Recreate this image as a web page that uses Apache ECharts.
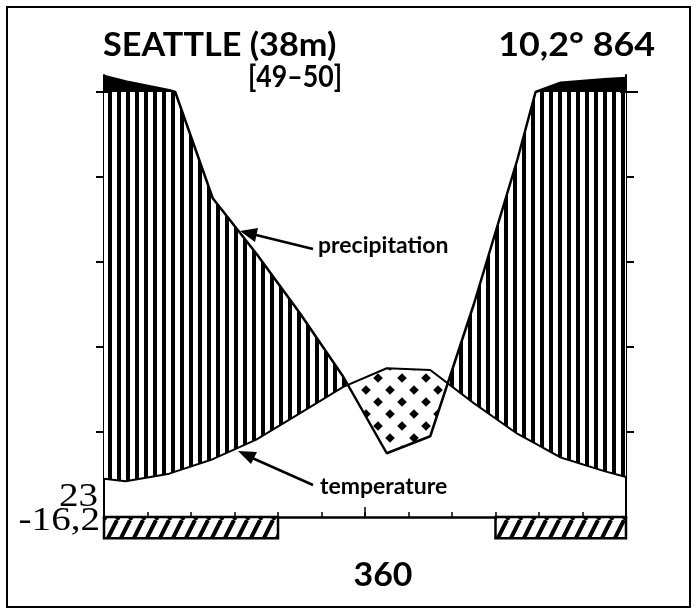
<!DOCTYPE html>
<html><head><meta charset="utf-8">
<script src="https://cdn.jsdelivr.net/npm/echarts@6/dist/echarts.min.js"></script>
<style>html,body{margin:0;padding:0;background:#fff}#c{width:696px;height:614px}</style>
</head><body><div id="c"></div>
<script>
// ---- data ----
const months = ['Jan','Feb','Mar','Apr','May','Jun','Jul','Aug','Sep','Oct','Nov','Dec'];
const temperature = [4.2, 5.1, 6.8, 9.1, 12.2, 15.3, 17.5, 17.3, 13.4, 9.8, 7.0, 5.4];   // °C
const precipitation = [125, 104, 75, 62, 48, 33, 15, 19, 50, 84, 122, 130];             // mm
const edgeTemperature = [4.5, 4.7];      // values at left / right frame edge
const edgePrecipitation = [138, 133];
const frostHatched = [1,1,1,1,0,0,0,0,0,1,1,1];  // months with absolute min below 0
const yTicks = [20, 40, 60, 80, 100];
const titleText = 'SEATTLE (38m)';
const yearsText = '[49–50]';
const meanText = '10,2° 864';
const maxWarmText = '23';
const absMinText = '-16,2';
const bottomText = '360';

// ---- Walter–Lieth scale: 10 °C = 20 mm, above 100 mm reduced 1:10 ----
const tDisp = t => 2 * t;
const pDisp = p => p <= 100 ? p : 100 + (p - 100) / 10;

const xm = [0].concat(months.map((m, i) => i + 0.5), [12]);
const Tm = [edgeTemperature[0]].concat(temperature, [edgeTemperature[1]]);
const Pm = [edgePrecipitation[0]].concat(precipitation, [edgePrecipitation[1]]);

// insert the 100 mm crossings (interpolated in real mm), then change scale
const xs = [xm[0]], Pr = [Pm[0]], Tr = [Tm[0]];
for (let i = 1; i < xm.length; i++) {
  if ((Pm[i-1] - 100) * (Pm[i] - 100) < 0) {
    const f = (100 - Pm[i-1]) / (Pm[i] - Pm[i-1]);
    xs.push(xm[i-1] + f * (xm[i] - xm[i-1])); Pr.push(100); Tr.push(Tm[i-1] + f * (Tm[i] - Tm[i-1]));
  }
  xs.push(xm[i]); Pr.push(Pm[i]); Tr.push(Tm[i]);
}
const T = Tr.map(tDisp);
const P = Pr.map(pDisp);
const H = xs.map(() => 100);

function bands(xs, top, bot) {
  const polys = []; let cur = null;
  for (let i = 0; i < xs.length; i++) {
    const d = top[i] - bot[i];
    if (i > 0) {
      const dp = top[i-1] - bot[i-1];
      if ((dp > 0) !== (d > 0)) {
        const f = dp / (dp - d);
        const xc = xs[i-1] + f * (xs[i] - xs[i-1]);
        const yc = bot[i-1] + f * (bot[i] - bot[i-1]);
        if (cur) { cur.top.push([xc, yc]); polys.push(cur); cur = null; }
        else { cur = { top: [[xc, yc]], bot: [] }; }
      }
    }
    if (d > 0) {
      if (!cur) cur = { top: [], bot: [] };
      cur.top.push([xs[i], top[i]]); cur.bot.push([xs[i], bot[i]]);
    }
  }
  if (cur) polys.push(cur);
  return polys.map(c => c.top.concat(c.bot.slice().reverse()));
}
const humid = bands(xs, P, T);
const dry = bands(xs, T, P);
const wet = bands(xs, P, H);

// frost runs
const frostRuns = [];
frostHatched.forEach((v, i) => {
  if (!v) return;
  const last = frostRuns[frostRuns.length - 1];
  if (last && last[1] === i) last[1] = i + 1; else frostRuns.push([i, i + 1]);
});

// ---- patterns ----
function mk(w, h, draw) { const c = document.createElement('canvas'); c.width = w; c.height = h; draw(c.getContext('2d')); return c; }
const stripes = mk(9, 4, g => { g.fillStyle = '#fff'; g.fillRect(0,0,9,4); g.fillStyle = '#000'; g.fillRect(0,0,4,4); });
const dots = mk(24, 24, g => {
  g.fillStyle = '#fff'; g.fillRect(0,0,24,24); g.fillStyle = '#000';
  [[6,6],[18,18]].forEach(([cx, cy]) => { g.beginPath(); g.moveTo(cx, cy-4.8); g.lineTo(cx+4.8, cy); g.lineTo(cx, cy+4.8); g.lineTo(cx-4.8, cy); g.closePath(); g.fill(); });
});
const hatch = mk(13, 26, g => {
  g.fillStyle = '#fff'; g.fillRect(0,0,13,26); g.strokeStyle = '#000'; g.lineWidth = 4;
  [-13, 0, 13].forEach(o => { g.beginPath(); g.moveTo(o, 26); g.lineTo(o + 13, 0); g.stroke(); });
});

const chart = echarts.init(document.getElementById('c'), null, { renderer: 'canvas' });

function polyEl(api, pts, fill) {
  return { type: 'polygon', shape: { points: pts.map(p => api.coord(p)) }, style: { fill: fill, lineWidth: 0 } };
}

const yAxisCommon = {
  type: 'value', min: -5, max: 104,
  splitLine: { show: false },
  axisLine: { show: true, onZero: false, lineStyle: { color: '#000', width: 2 } },
  axisTick: { show: true, customValues: yTicks, length: 8, lineStyle: { color: '#000', width: 2 } },
  axisLabel: { show: false }
};

const bigFont = 'bold 32px Lato';
const numFont = '34px "Liberation Serif"';

chart.setOption({
  animation: false,
  backgroundColor: '#fff',
  grid: { left: 104, right: 70, top: 75, bottom: 75.75 },
  xAxis: {
    type: 'value', min: 0, max: 12, interval: 1,
    axisLine: { onZero: true, lineStyle: { color: '#000', width: 2.5 } },
    axisTick: { inside: true, length: 5, lineStyle: { color: '#000', width: 1.5 } },
    axisLabel: { show: false }, splitLine: { show: false }
  },
  yAxis: [
    Object.assign({}, yAxisCommon, { position: 'left' }),
    Object.assign({}, yAxisCommon, { position: 'right' })
  ],
  series: [
    {
      type: 'custom', data: [[0]], z: 2, silent: true,
      renderItem: (params, api) => {
        const children = [];
        humid.forEach(pts => children.push(polyEl(api, pts, { image: stripes, repeat: 'repeat' })));
        wet.forEach(pts => children.push(polyEl(api, pts, '#000')));
        dry.forEach(pts => children.push(polyEl(api, pts, { image: dots, repeat: 'repeat' })));
        frostRuns.forEach(r => {
          const a = api.coord([r[0], 0]), b = api.coord([r[1], -5]);
          children.push({ type: 'rect', shape: { x: a[0], y: a[1], width: b[0] - a[0], height: b[1] - a[1] },
            style: { fill: { image: hatch, repeat: 'repeat' }, stroke: '#000', lineWidth: 2.5 } });
        });
        const c0 = api.coord([6, 0]);
        children.push({ type: 'line', shape: { x1: c0[0], y1: c0[1], x2: c0[0], y2: c0[1] - 10 }, style: { stroke: '#000', lineWidth: 1.5 } });
        const l = api.coord([0, 100]), r = api.coord([12, 100]);
        children.push({ type: 'line', shape: { x1: l[0], y1: l[1], x2: l[0] + 6, y2: l[1] }, style: { stroke: '#000', lineWidth: 2 } });
        children.push({ type: 'line', shape: { x1: r[0] - 6, y1: r[1], x2: r[0] + 12, y2: r[1] }, style: { stroke: '#000', lineWidth: 2 } });
        return { type: 'group', children };
      }
    },
    {
      type: 'line', name: 'precipitation', z: 3, symbol: 'none',
      data: xs.map((x, i) => [x, P[i]]),
      lineStyle: { color: '#000', width: 2.5 }
    },
    {
      type: 'line', name: 'temperature', z: 3, symbol: 'none',
      data: xs.map((x, i) => [x, T[i]]),
      lineStyle: { color: '#000', width: 2 }
    }
  ],
  graphic: [
    { type: 'rect', shape: { x: 7, y: 7, width: 683, height: 600 }, style: { fill: null, stroke: '#000', lineWidth: 2 } },
    { type: 'text', x: 103, y: 46, scaleX: 1.07, style: { text: titleText, x: 0, y: 0, font: bigFont, textVerticalAlign: 'middle', fill: '#000' } },
    { type: 'text', x: 248, y: 77, scaleX: 0.86, style: { text: yearsText, x: 0, y: 0, font: 'bold 31px Lato', textVerticalAlign: 'middle', fill: '#000' } },
    { type: 'text', x: 655, y: 46, scaleX: 1.12, style: { text: meanText, x: 0, y: 0, font: bigFont, textAlign: 'right', textVerticalAlign: 'middle', fill: '#000' } },
    { type: 'text', x: 383, y: 576, scaleX: 1.06, style: { text: bottomText, x: 0, y: 0, font: bigFont, textAlign: 'center', textVerticalAlign: 'middle', fill: '#000' } },
    { type: 'text', x: 98, y: 497, scaleX: 1.15, style: { text: maxWarmText, x: 0, y: 0, font: numFont, textAlign: 'right', textVerticalAlign: 'middle', fill: '#000' } },
    { type: 'text', x: 100, y: 521, scaleX: 1.15, style: { text: absMinText, x: 0, y: 0, font: numFont, textAlign: 'right', textVerticalAlign: 'middle', fill: '#000' } },
    { type: 'text', x: 318, y: 246, style: { text: 'precipitation', x: 0, y: 0, font: 'bold 23px Lato', textVerticalAlign: 'middle', fill: '#000' } },
    { type: 'text', x: 320, y: 487, style: { text: 'temperature', x: 0, y: 0, font: 'bold 23px Lato', textVerticalAlign: 'middle', fill: '#000' } },
    { type: 'polyline', shape: { points: [[313, 249], [252, 234]] }, style: { stroke: '#000', lineWidth: 2.5 } },
    { type: 'polygon', shape: { points: [[240, 231], [258, 228], [255, 242]] }, style: { fill: '#000' } },
    { type: 'polyline', shape: { points: [[313, 485], [250, 457]] }, style: { stroke: '#000', lineWidth: 2.5 } },
    { type: 'polygon', shape: { points: [[238, 451], [257, 452], [251, 464]] }, style: { fill: '#000' } }
  ]
});
</script></body></html>
